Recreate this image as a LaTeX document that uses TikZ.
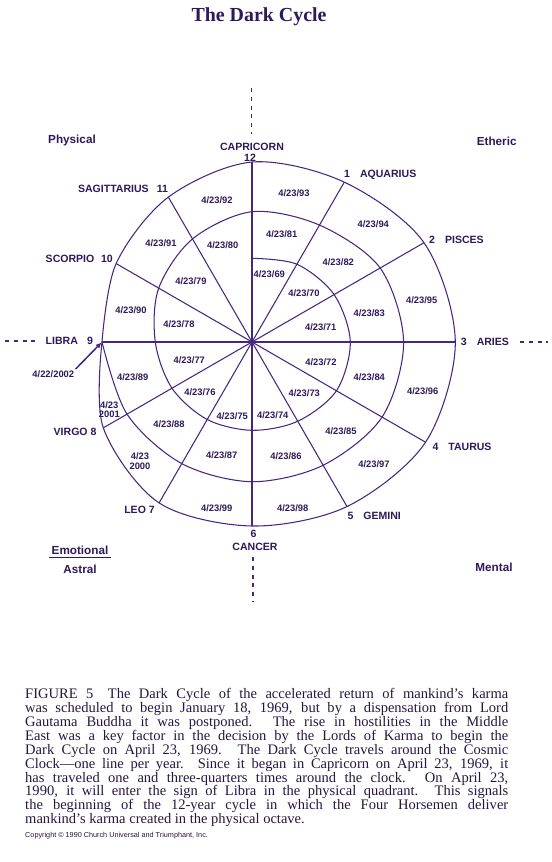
\documentclass[tikz,border=0pt]{standalone}
\usepackage{fontspec}
\setmainfont{Liberation Serif}
\setsansfont{Liberation Sans}
\usetikzlibrary{arrows.meta}
\definecolor{colorTinta}{HTML}{452780}
\definecolor{colorTexto}{HTML}{2D1A59}
\definecolor{colorPie}{HTML}{26173F}

\begin{document}
\begin{tikzpicture}[x=0.03cm, y=-0.03cm,
        signo/.style={text=colorTexto, inner sep=0pt, font=\sffamily\bfseries\fontsize{9}{10}\selectfont},
        fecha/.style={text=colorTexto, inner sep=0pt, align=center, font=\sffamily\bfseries\fontsize{8}{8.2}\selectfont},
        plano/.style={text=colorTexto, inner sep=0pt, font=\sffamily\bfseries\fontsize{10}{11}\selectfont},
        rueda/.style={draw=colorTinta, line width=0.9pt},
        eje/.style={draw=colorTinta, line width=0.9pt, dash pattern=on 3.5pt off 4pt}
    ]
    \fill[white] (0,0) rectangle (551,862);
    \useasboundingbox (0,0) rectangle (551,862);

    \node[anchor=base, text=colorTexto, font=\bfseries\fontsize{17}{20}\selectfont] (titulo) at (259,21) {The Dark Cycle};

    % rueda (espiral de tres vueltas)
    \begin{scope}[shift={(252,342)}, yscale=-1]
        \coordinate (c) at (0,0);
        \foreach \nom/\ang/\rad in {cap/90/180, acu/60/184.6, pis/30/198.6, ari/0/203.3, tau/-30/200.4, gem/-60/190,
                can/-90/184, leo/-120/185.8, vir/-150/171.7, lib/180/150, esc/150/156.9, sag/120/167.3}
            \coordinate (\nom) at (\ang:\rad);
        \foreach \nom in {cap,acu,pis,ari,tau,gem,can,leo,vir,lib,esc,sag}
            \draw[rueda] (c) -- (\nom);
        \draw[rueda] plot[smooth, tension=0.53] coordinates {(90:83.7) (60:89.8) (30:94.8) (0:98.3) (-30:97.5)
            (-60:91.5) (-90:88.3) (-120:89.5) (-150:92.4) (-180:96.7) (-210:107.7) (-240:119) (-270:130.3)
            (-300:135) (-330:148) (-360:151.6) (-390:150.2) (-420:142.3) (-450:139.7) (-480:140.4) (-510:144.3)
            (-540:150)};
        \draw[rueda] plot[smooth, tension=0.53] coordinates {(180:150) (150:156.9) (120:167.3) (90:180) (60:184.6)
            (30:198.6) (0:203.3) (-30:200.4) (-60:190) (-90:184) (-120:185.8) (-150:171.7) (-180:150)};
    \end{scope}

    % ejes
    \coordinate (ejeN1) at (251.5,88);  \coordinate (ejeN2) at (251.5,134);
    \coordinate (ejeS1) at (253,557);   \coordinate (ejeS2) at (253,602);
    \coordinate (ejeO1) at (5,341);     \coordinate (ejeO2) at (40,341);
    \coordinate (ejeE1) at (520,342);   \coordinate (ejeE2) at (548,342);
    \draw[eje] (ejeN1) -- (ejeN2);
    \draw[eje] (ejeS1) -- (ejeS2);
    \draw[eje] (ejeO1) -- (ejeO2);
    \draw[eje] (ejeE1) -- (ejeE2);

    % signos
    \node[signo] (capL) at (252,146.7) {CAPRICORN};
    \node[signo] (n12) at (250,158.3) {12};
    \node[signo, anchor=west] (acuL) at (344,175) {1\hspace{8.5pt}AQUARIUS};
    \node[signo, anchor=west] (pisL) at (429,240) {2\hspace{8.5pt}PISCES};
    \node[signo, anchor=west] (ariL) at (460.7,342.3) {3\hspace{8.5pt}ARIES};
    \node[signo, anchor=west] (tauL) at (432.3,446.7) {4\hspace{8.5pt}TAURUS};
    \node[signo, anchor=west] (gemL) at (347.3,516) {5\hspace{8.5pt}GEMINI};
    \node[signo] (n6) at (253.5,533.5) {6};
    \node[signo] (canL) at (255,547.3) {CANCER};
    \node[signo, anchor=east] (leoL) at (155,510) {LEO 7};
    \node[signo, anchor=east] (virL) at (96.7,432.3) {VIRGO 8};
    \node[signo, anchor=east] (libL) at (93.3,341) {LIBRA\hspace{7.9pt}9};
    \node[signo, anchor=east] (escL) at (113,259) {SCORPIO\hspace{5.7pt}10};
    \node[signo, anchor=east] (sagL) at (168.3,189.3) {SAGITTARIUS\hspace{7pt}11};

    % planos
    \node[plano] (fisico) at (72,140) {Physical};
    \node[plano] (eterico) at (496.7,141.7) {Etheric};
    \node[plano, inner sep=2pt] (emocional) at (80,550.7) {Emotional};
    \draw[draw=colorTexto, line width=0.9pt] (emocional.south west) -- (emocional.south east);
    \node[plano] (astral) at (80,569.3) {Astral};
    \node[plano] (mental) at (494,567) {Mental};

    % fechas
    \foreach \yr/\px/\py in {69/269.3/274, 70/304/293.3, 71/320.7/326.7, 72/321/362.3, 73/304.3/393.3,
            74/272.8/415, 75/232.3/415.7, 76/200/392.3, 77/189.3/360, 78/179/323.7, 79/191/281,
            80/222.7/245, 81/281.7/234.3, 82/338.3/262.5, 83/369.2/312.7, 84/369.3/377.3, 85/341/431,
            86/286/456, 87/221.7/455, 88/169/424.3, 89/132.7/376.7, 90/131/310.3, 91/161/242.7,
            92/217/200, 93/294/192.7, 94/373.3/224.3, 95/421.7/300, 96/422.7/390.7, 97/374/464.3,
            98/292.7/507.7, 99/216.7/507.7}
        \node[fecha] (f\yr) at (\px,\py) {4/23/\yr};
    \node[fecha] (f2000) at (140,461.3) {4/23\\2000};
    \node[fecha] (f2001) at (109.3,409.5) {4/23\\2001};
    \node[fecha, inner sep=1pt] (f2002) at (53.3,374) {4/22/2002};
    \draw[-{Latex[length=5pt, width=4.5pt]}, draw=colorTinta, line width=1.3pt, shorten >=0.5pt] (f2002.north east) -- (lib);

    % pie de figura
    \node[anchor=north west, inner sep=0pt, text width=14.49cm, align=justify, text=colorPie,
        font=\fontsize{12.4}{11.83}\selectfont] (pie) at (25,688.5) {FIGURE 5\quad The Dark Cycle of the accelerated return of mankind's karma\linebreak
        was scheduled to begin January 18, 1969, but by a dispensation from Lord\linebreak
        Gautama Buddha it was postponed. The rise in hostilities in the Middle\linebreak
        East was a key factor in the decision by the Lords of Karma to begin the\linebreak
        Dark Cycle on April 23, 1969. The Dark Cycle travels around the Cosmic\linebreak
        Clock—one line per year. Since it began in Capricorn on April 23, 1969, it\linebreak
        has traveled one and three-quarters times around the clock. On April 23,\linebreak
        1990, it will enter the sign of Libra in the physical quadrant. This signals\linebreak
        the beginning of the 12-year cycle in which the Four Horsemen deliver\linebreak
        mankind's karma created in the physical octave.};
    \node[anchor=west, inner sep=0pt, text=colorPie, font=\sffamily\fontsize{6.2}{7}\selectfont] (copia) at (25,835.5)
        {Copyright \textcopyright\ 1990 Church Universal and Triumphant, Inc.};
\end{tikzpicture}
\end{document}
